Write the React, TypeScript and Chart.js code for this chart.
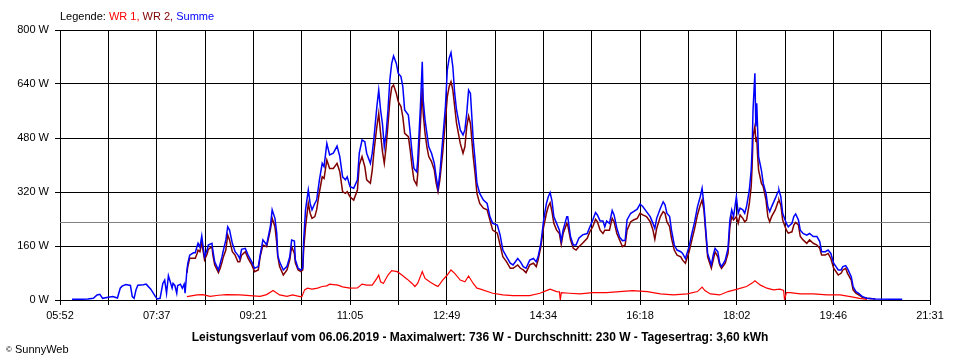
import React, { useEffect, useRef } from "react";
import { Chart, registerables } from "chart.js";

Chart.register(...registerables);

// ---- axis / labels ----
const TIME_LABELS = ["05:52", "07:37", "09:21", "11:05", "12:49", "14:34", "16:18", "18:02", "19:46", "21:31"];
const SPAN_MINUTES = 939; // 05:52 -> 21:31
const GRID_DIVISIONS = 18;
const Y_MAX = 800;
const Y_STEP = 160;
const AVERAGE_W = 230;

// ---- series (minutes after 05:52, watts) ----
const SUM_MINUTES = [
  13, 22, 30, 36, 40, 43, 46, 52, 57, 62, 65, 67, 71, 76, 78, 80, 82, 84, 90, 93,
  98, 103, 105, 108, 111, 113, 115, 117, 119, 121, 122, 124, 126, 127, 130, 132, 134, 135,
  137, 138, 140, 144, 146, 148, 149, 151, 153, 154, 156, 159, 160, 164, 165, 167, 171, 173,
  175, 176, 179, 181, 183, 186, 189, 192, 194, 196, 200, 203, 207, 210, 214, 216, 219, 223,
  227, 229, 232, 234, 235, 237, 241, 245, 248, 250, 253, 254, 257, 260, 262, 263, 265, 268,
  270, 272, 275, 277, 280, 283, 285, 288, 291, 295, 299, 302, 305, 308, 310, 313, 317, 321,
  323, 326, 329, 331, 335, 337, 339, 342, 344, 346, 348, 350, 352, 354, 356, 358, 360, 363,
  365, 368, 370, 372, 376, 378, 380, 382, 385, 386, 389, 391, 392, 394, 396, 398, 401, 404,
  406, 408, 410, 413, 416, 418, 420, 422, 424, 426, 428, 432, 435, 437, 439, 441, 443, 446,
  448, 450, 453, 457, 461, 464, 467, 472, 475, 478, 482, 486, 489, 494, 497, 500, 503, 507,
  511, 514, 516, 519, 522, 525, 527, 529, 531, 533, 536, 539, 541, 543, 547, 548, 551, 554,
  557, 560, 564, 569, 572, 575, 578, 580, 583, 586, 588, 590, 593, 596, 598, 601, 604, 607,
  610, 612, 616, 619, 623, 626, 629, 633, 637, 640, 642, 644, 648, 651, 653, 655, 658, 660,
  663, 666, 670, 672, 675, 679, 682, 685, 688, 691, 693, 695, 697, 699, 703, 705, 707, 710,
  712, 714, 718, 721, 723, 725, 727, 730, 732, 734, 737, 739, 741, 744, 746, 747, 748, 750,
  751, 752, 753, 754, 757, 759, 762, 764, 766, 768, 772, 775, 776, 778, 780, 784, 786, 790,
  792, 794, 797, 799, 802, 806, 809, 813, 817, 820, 822, 826, 829, 832, 835, 840, 843, 845,
  848, 850, 854, 856, 859, 862, 866, 871, 880, 901, 909,
];

const SUMME_W = [
  2, 2, 3, 5, 15, 17, 5, 8, 10, 6, 35, 41, 46, 43, 10, 5, 30, 44, 45, 47,
  32, 10, 3, 5, 49, 59, 20, 72, 54, 35, 49, 43, 20, 43, 47, 35, 47, 20,
  89, 109, 133, 140, 140, 160, 168, 157, 190, 168, 128, 150, 163, 168, 146, 113, 89, 109,
  130, 143, 178, 217, 207, 168, 143, 133, 123, 150, 153, 133, 113, 94, 99, 133, 178, 163,
  217, 267, 242, 197, 133, 113, 89, 100, 128, 178, 175, 119, 94, 89, 95, 178, 267, 326,
  286, 267, 286, 296, 356, 405, 395, 464, 430, 435, 456, 425, 365, 356, 365, 336, 331, 356,
  435, 474, 469, 435, 405, 435, 484, 573, 622, 563, 523, 454, 494, 563, 652, 701, 723, 701,
  672, 662, 632, 563, 548, 494, 435, 390, 380, 410, 573, 706, 593, 533, 494, 454, 435, 405,
  365, 331, 375, 474, 573, 681, 716, 733, 691, 612, 563, 504, 489, 504, 553, 622, 612, 474,
  415, 346, 316, 296, 286, 247, 227, 222, 193, 148, 128, 109, 104, 123, 113, 99, 94, 118,
  123, 113, 128, 168, 237, 286, 306, 318, 294, 247, 227, 207, 175, 207, 247, 247, 188, 163,
  163, 183, 193, 197, 217, 237, 259, 252, 234, 234, 217, 234, 227, 265, 252, 213, 186, 176,
  177, 237, 257, 262, 269, 284, 277, 262, 247, 227, 212, 242, 272, 291, 282, 257, 247, 207,
  163, 148, 143, 138, 123, 158, 197, 232, 276, 306, 331, 282, 207, 138, 104, 133, 153, 143,
  109, 99, 118, 153, 237, 267, 247, 306, 257, 272, 267, 257, 277, 326, 385, 444, 563, 672,
  514, 583, 504, 425, 385, 346, 316, 276, 262, 276, 301, 321, 326, 306, 257, 227, 217, 227,
  247, 255, 237, 207, 197, 192, 197, 188, 188, 173, 143, 143, 148, 138, 109, 89, 89, 99,
  102, 93, 69, 40, 25, 20, 10, 5, 3, 2, 2,
];

const WR2_W = [
  null, null, null, null, null, null, null, null, null, null, null, null, null, null, null, null, null, null, null, null,
  null, null, null, null, null, null, null, null, null, null, null, null, null, null, null, null, null, null,
  80, 100, 124, 124, 124, 138, 148, 143, 170, 153, 119, 138, 150, 158, 133, 104, 81, 95,
  113, 125, 148, 193, 178, 143, 133, 113, 113, 133, 143, 123, 104, 84, 89, 128, 163, 158,
  207, 242, 217, 168, 130, 99, 74, 89, 119, 158, 138, 110, 89, 84, 89, 150, 217, 286,
  257, 242, 247, 267, 320, 365, 360, 415, 390, 390, 405, 380, 321, 316, 321, 306, 296, 326,
  400, 425, 395, 356, 346, 385, 444, 514, 553, 494, 440, 405, 454, 520, 590, 630, 637, 612,
  588, 573, 543, 494, 484, 444, 395, 356, 341, 370, 523, 627, 553, 494, 454, 425, 410, 385,
  346, 321, 356, 435, 533, 602, 632, 647, 622, 573, 523, 464, 435, 454, 514, 545, 523, 425,
  375, 316, 286, 272, 267, 237, 207, 198, 163, 128, 113, 94, 94, 104, 94, 89, 81, 104,
  109, 99, 118, 158, 217, 257, 277, 288, 262, 227, 207, 197, 165, 197, 227, 222, 178, 153,
  148, 158, 168, 183, 203, 217, 239, 232, 207, 197, 207, 207, 207, 242, 232, 197, 178, 158,
  163, 207, 232, 237, 242, 257, 252, 247, 232, 207, 180, 212, 247, 262, 257, 232, 217, 183,
  148, 133, 128, 118, 109, 143, 178, 212, 252, 281, 296, 267, 197, 128, 94, 118, 143, 128,
  104, 94, 109, 138, 217, 247, 237, 247, 227, 252, 242, 232, 237, 286, 336, 395, 484, 514,
  474, 479, 425, 385, 346, 336, 296, 247, 232, 247, 267, 291, 296, 281, 237, 207, 198, 202,
  222, 230, 222, 188, 178, 168, 178, 168, 163, 153, 133, 133, 138, 123, 94, 74, 79, 89,
  94, 79, 59, 30, 20, 15, 8, 5, 3, null, null,
];

const WR1_MINUTES = [
  137, 148, 154, 162, 171, 180, 194, 216, 223, 230, 237, 245, 251, 259, 261, 264, 267, 272,
  278, 283, 288, 291, 300, 305, 313, 321, 326, 331, 337, 342, 344, 346, 349, 354, 358, 364,
  369, 375, 380, 383, 386, 391, 394, 399, 405, 408, 413, 418, 422, 426, 432, 437, 441, 446,
  450, 453, 467, 478, 489, 507, 518, 527, 529, 536, 539, 540, 541, 550, 561, 575, 590, 604,
  618, 634, 648, 662, 677, 688, 693, 696, 702, 712, 721, 731, 741, 747, 750, 756, 763, 770,
  777, 781, 782, 784, 788, 799, 813, 828, 842, 853, 863, 871,
];

const WR1_W = [
  10, 15, 16, 11, 14, 16, 15, 11, 16, 28, 15, 11, 15, 10, 10, 30, 35, 32,
  35, 40, 42, 47, 44, 39, 35, 36, 47, 44, 44, 64, 74, 54, 49, 74, 87, 84,
  74, 61, 49, 40, 49, 84, 64, 54, 44, 40, 59, 74, 89, 79, 59, 54, 71, 49,
  35, 33, 20, 15, 13, 13, 20, 30, 32, 25, 24, 0, 22, 20, 18, 22, 22, 25,
  28, 25, 18, 15, 18, 25, 38, 28, 18, 15, 25, 32, 40, 50, 57, 44, 35, 30,
  32, 28, 0, 22, 22, 18, 18, 15, 15, 10, 5, 2,
];

const FONT = '"Liberation Sans", Arial, sans-serif';

export default function App() {
  const canvasRef = useRef<HTMLCanvasElement | null>(null);

  useEffect(() => {
    const canvas = canvasRef.current;
    if (!canvas) return;

    const averagePlugin = {
      id: "averageLine",
      beforeDatasetsDraw(chart: any) {
        const { ctx, chartArea, scales } = chart;
        const y = Math.round(scales.y.getPixelForValue(AVERAGE_W)) + 0.5;
        ctx.save();
        ctx.strokeStyle = "#808080";
        ctx.lineWidth = 1;
        ctx.beginPath();
        ctx.moveTo(chartArea.left, y);
        ctx.lineTo(chartArea.right, y);
        ctx.stroke();
        ctx.restore();
      },
    };

    const whiteBg = {
      id: "whiteBg",
      beforeDraw(chart: any) {
        const { ctx, width, height } = chart;
        ctx.save();
        ctx.fillStyle = "#ffffff";
        ctx.fillRect(0, 0, width, height);
        ctx.restore();
      },
    };

    const pts = (xs: number[], ys: (number | null)[]) => xs.map((x, i) => ({ x, y: ys[i] }));

    const chart = new Chart(canvas, {
      type: "line",
      data: {
        datasets: [
          {
            label: "Summe",
            data: pts(SUM_MINUTES, SUMME_W),
            borderColor: "#0000ff",
            borderWidth: 1.5,
            pointRadius: 0,
            tension: 0,
            order: 1,
          },
          {
            label: "WR 2",
            data: pts(SUM_MINUTES, WR2_W),
            borderColor: "#800000",
            borderWidth: 1.5,
            pointRadius: 0,
            tension: 0,
            spanGaps: false,
            order: 2,
          },
          {
            label: "WR 1",
            data: pts(WR1_MINUTES, WR1_W),
            borderColor: "#ff0000",
            borderWidth: 1.2,
            pointRadius: 0,
            tension: 0,
            order: 3,
          },
        ] as any,
      },
      options: {
        responsive: false,
        animation: false,
        events: [],
        layout: { padding: { top: 30, right: 30, left: 0, bottom: 0 } },
        plugins: {
          legend: { display: false },
          tooltip: { enabled: false },
          title: { display: false },
        },
        scales: {
          x: {
            type: "linear",
            min: 0,
            max: SPAN_MINUTES,
            afterBuildTicks: (scale: any) => {
              scale.ticks = Array.from({ length: GRID_DIVISIONS + 1 }, (_, i) => ({
                value: (i * SPAN_MINUTES) / GRID_DIVISIONS,
              }));
            },
            afterFit: (scale: any) => {
              scale.height = 60;
            },
            ticks: {
              autoSkip: false,
              maxRotation: 0,
              minRotation: 0,
              padding: 4,
              color: "#000",
              font: { family: FONT, size: 11 },
              callback: (_v: any, i: number) => (i % 2 === 0 ? TIME_LABELS[i / 2] : ""),
            },
            grid: { color: "#000", lineWidth: 1, tickLength: 5 },
            border: { color: "#000", width: 1 },
          },
          y: {
            min: 0,
            max: Y_MAX,
            afterFit: (scale: any) => {
              scale.width = 60;
            },
            ticks: {
              stepSize: Y_STEP,
              padding: 6,
              color: "#000",
              font: { family: FONT, size: 11 },
              callback: (v: any) => `${v} W`,
            },
            grid: { color: "#000", lineWidth: 1, tickLength: 5 },
            border: { color: "#000", width: 1 },
          },
        },
      } as any,
      plugins: [whiteBg, averagePlugin],
    });

    return () => chart.destroy();
  }, []);

  const textBase: React.CSSProperties = {
    position: "absolute",
    fontFamily: FONT,
    fontSize: 11,
    lineHeight: "13px",
    whiteSpace: "nowrap",
    color: "#000",
  };

  return (
    <div style={{ position: "absolute", left: 0, top: 0, width: 960, height: 360, background: "#fff" }}>
      <canvas ref={canvasRef} width={960} height={360} style={{ display: "block", width: 960, height: 360 }} />
      <div style={{ ...textBase, left: 60, top: 10 }}>
        <span>Legende: </span>
        <span style={{ color: "#ff0000" }}>WR 1,</span>
        <span style={{ color: "#800000" }}> WR 2,</span>
        <span style={{ color: "#0000ff" }}> Summe</span>
      </div>
      <div
        style={{
          ...textBase,
          left: 0,
          width: 960,
          top: 330,
          textAlign: "center",
          fontWeight: "bold",
          fontSize: 12,
          lineHeight: "14px",
        }}
      >
        Leistungsverlauf vom 06.06.2019 - Maximalwert: 736 W - Durchschnitt: 230 W - Tagesertrag: 3,60 kWh
      </div>
      <div style={{ ...textBase, left: 6, top: 343 }}>
        <span style={{ fontSize: 8, verticalAlign: "top" }}>©</span> SunnyWeb
      </div>
    </div>
  );
}
